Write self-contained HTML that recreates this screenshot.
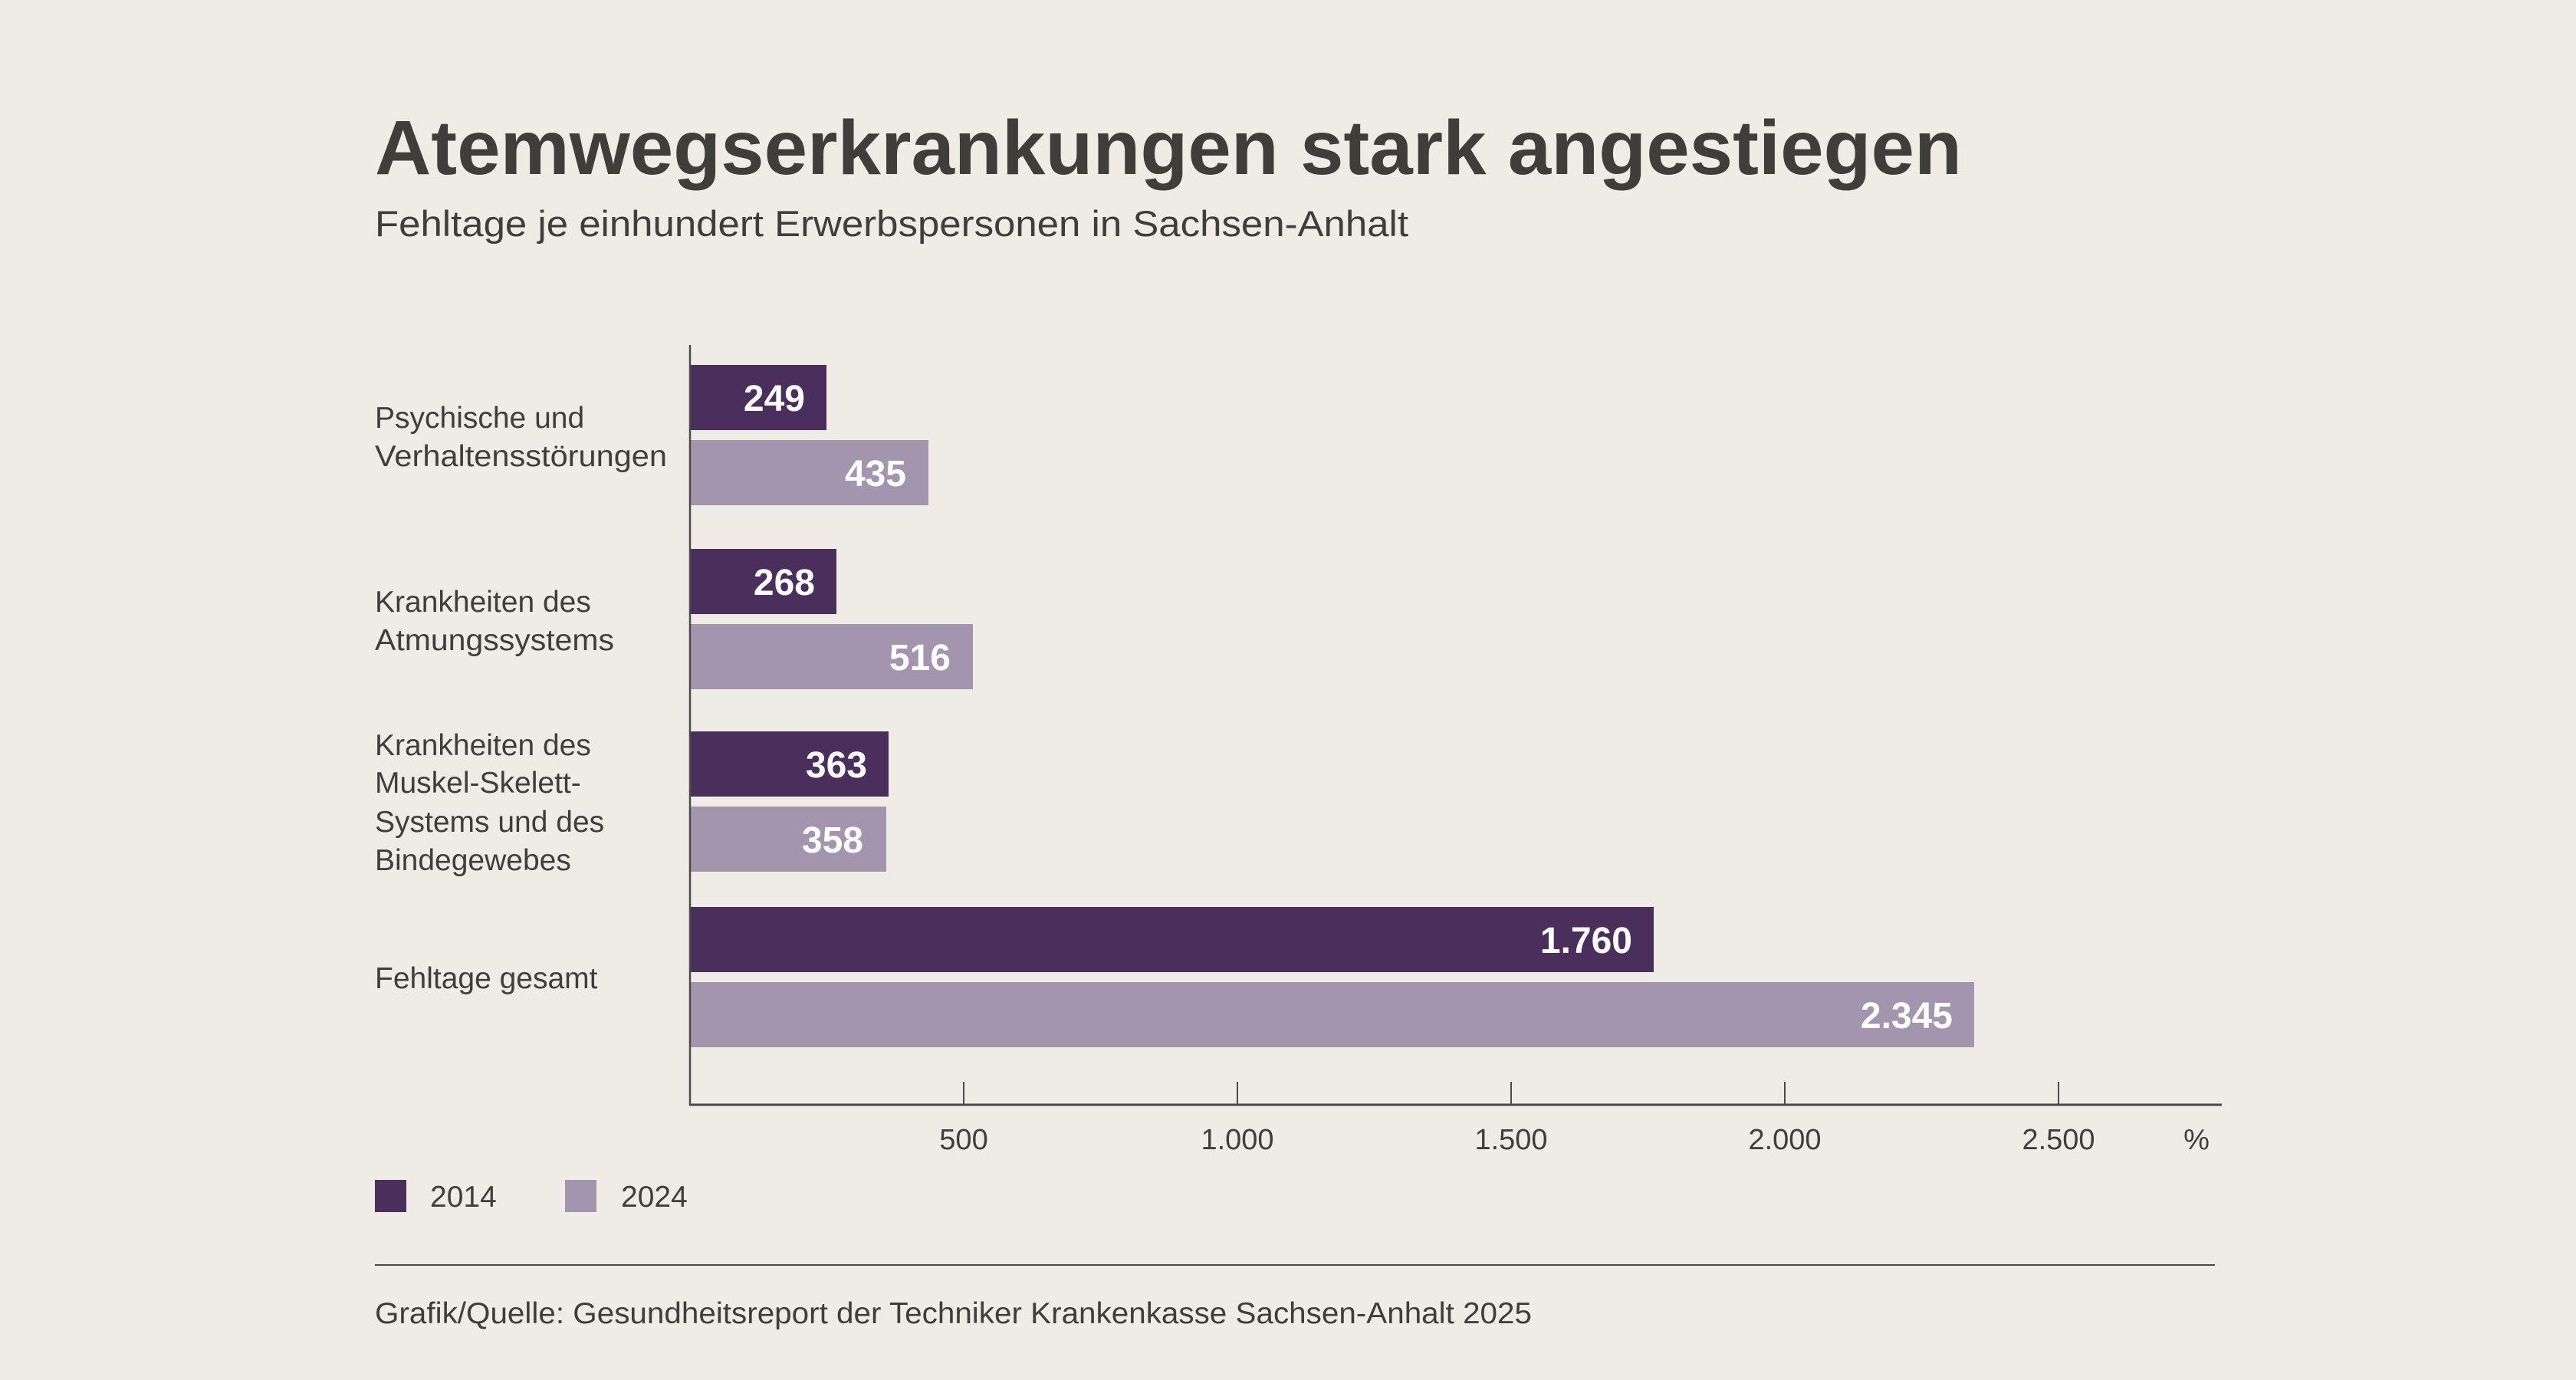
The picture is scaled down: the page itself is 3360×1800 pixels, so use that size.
<!DOCTYPE html>
<html><head><meta charset="utf-8"><style>
html,body{margin:0;padding:0;background:#efece6;}
svg{display:block;}
text{font-family:"Liberation Sans",sans-serif;}
</style></head><body>
<svg width="3360" height="1800" viewBox="0 0 3360 1800" xmlns="http://www.w3.org/2000/svg">
<rect width="3360" height="1800" fill="#efece6"/>
<text x="489" y="227" font-size="100" font-weight="bold" fill="#3f3e3b" textLength="2070" lengthAdjust="spacingAndGlyphs">Atemwegserkrankungen stark angestiegen</text>
<text x="489" y="308" font-size="47" fill="#3f3e3b" textLength="1348" lengthAdjust="spacingAndGlyphs">Fehltage je einhundert Erwerbspersonen in Sachsen-Anhalt</text>

<g font-size="39" fill="#3f3e3b">
<text x="489" y="558">Psychische und</text>
<text x="489" y="608" textLength="381" lengthAdjust="spacingAndGlyphs">Verhaltensstörungen</text>
<text x="489" y="798">Krankheiten des</text>
<text x="489" y="848" textLength="312" lengthAdjust="spacingAndGlyphs">Atmungssystems</text>
<text x="489" y="985">Krankheiten des</text>
<text x="489" y="1034">Muskel-Skelett-</text>
<text x="489" y="1085">Systems und des</text>
<text x="489" y="1135">Bindegewebes</text>
<text x="489" y="1289">Fehltage gesamt</text>
</g>

<g>
<rect x="900" y="476" width="178" height="85" fill="#4a2e5c"/>
<rect x="900" y="574" width="311" height="85" fill="#a495ae"/>
<rect x="900" y="716" width="191" height="85" fill="#4a2e5c"/>
<rect x="900" y="814" width="369" height="85" fill="#a495ae"/>
<rect x="900" y="954" width="259" height="85" fill="#4a2e5c"/>
<rect x="900" y="1052" width="256" height="85" fill="#a495ae"/>
<rect x="900" y="1183" width="1257" height="85" fill="#4a2e5c"/>
<rect x="900" y="1281" width="1675" height="85" fill="#a495ae"/>
</g>
<g font-size="48" font-weight="bold" fill="#ffffff" text-anchor="end">
<text x="1050" y="536">249</text>
<text x="1182" y="634">435</text>
<text x="1063" y="776">268</text>
<text x="1240" y="874">516</text>
<text x="1131" y="1014">363</text>
<text x="1126" y="1112">358</text>
<text x="2129" y="1243">1.760</text>
<text x="2547" y="1341">2.345</text>
</g>

<g stroke="#4a4a48" fill="none">
<line x1="900" y1="450" x2="900" y2="1442" stroke-width="2.5"/>
<line x1="899" y1="1441" x2="2898" y2="1441" stroke-width="3"/>
<line x1="1257" y1="1411" x2="1257" y2="1441" stroke-width="2"/>
<line x1="1614" y1="1411" x2="1614" y2="1441" stroke-width="2"/>
<line x1="1971" y1="1411" x2="1971" y2="1441" stroke-width="2"/>
<line x1="2328" y1="1411" x2="2328" y2="1441" stroke-width="2"/>
<line x1="2685" y1="1411" x2="2685" y2="1441" stroke-width="2"/>
</g>
<g font-size="38" fill="#3f3e3b" text-anchor="middle">
<text x="1257" y="1499">500</text>
<text x="1614" y="1499">1.000</text>
<text x="1971" y="1499">1.500</text>
<text x="2328" y="1499">2.000</text>
<text x="2685" y="1499">2.500</text>
<text x="2865" y="1499">%</text>
</g>

<rect x="489" y="1539" width="41" height="42" fill="#4a2e5c"/>
<text x="561" y="1574" font-size="39" fill="#3f3e3b">2014</text>
<rect x="737" y="1539" width="41" height="42" fill="#a495ae"/>
<text x="810" y="1574" font-size="39" fill="#3f3e3b">2024</text>

<line x1="489" y1="1650" x2="2889" y2="1650" stroke="#4a4a48" stroke-width="2"/>
<text x="489" y="1726" font-size="39" fill="#3f3e3b" textLength="1509" lengthAdjust="spacingAndGlyphs">Grafik/Quelle: Gesundheitsreport der Techniker Krankenkasse Sachsen-Anhalt 2025</text>
</svg>
</body></html>
